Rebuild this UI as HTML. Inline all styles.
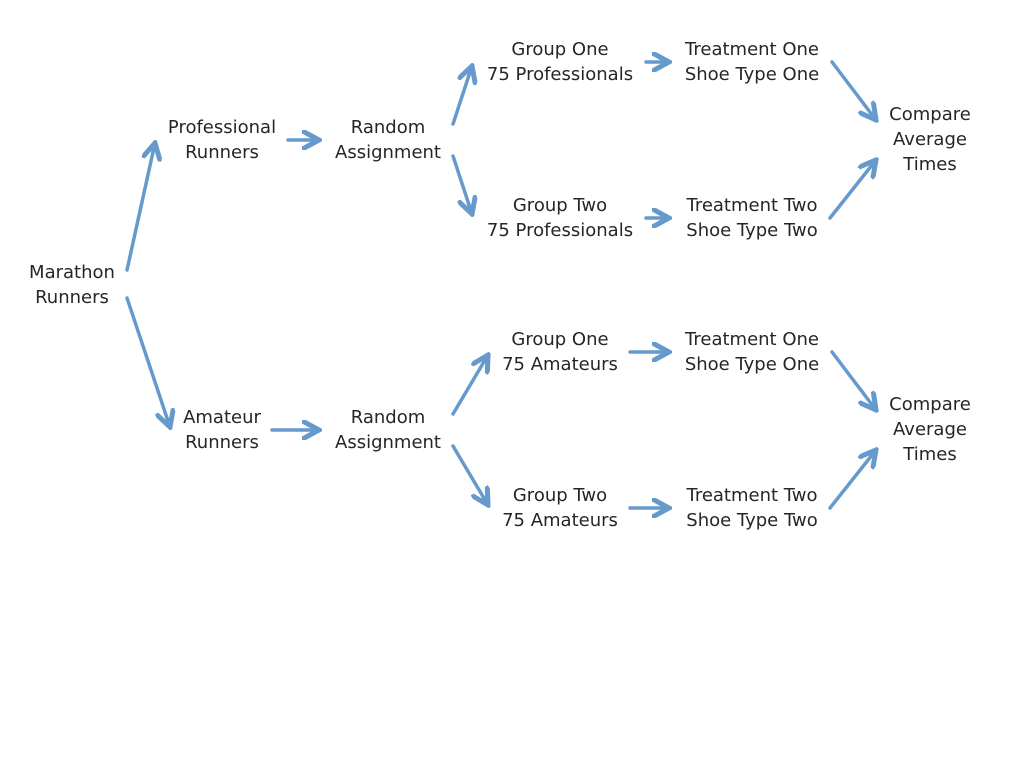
<!DOCTYPE html>
<html><head><meta charset="utf-8"><style>
html,body{margin:0;padding:0;background:#fff;}
svg text{font-family:"DejaVu Sans","Liberation Sans",sans-serif;font-size:18px;fill:#262626;text-anchor:middle;}
</style></head><body>
<svg width="1024" height="768" viewBox="0 0 1024 768" xmlns="http://www.w3.org/2000/svg">
<defs>
<marker id="a" markerUnits="userSpaceOnUse" markerWidth="20" markerHeight="20" refX="12" refY="7" orient="auto" viewBox="0 0 14 14">
<path d="M1,1 L12,7 L1,13" fill="none" stroke="#6699cc" stroke-width="3.5" stroke-linecap="round" stroke-linejoin="miter"/>
</marker>
</defs>
<g stroke="#6699cc" stroke-width="3.5" fill="none" stroke-linecap="round" marker-end="url(#a)">
<line x1="127" y1="270" x2="155" y2="143"/>
<line x1="127" y1="298" x2="170" y2="427"/>
<line x1="288" y1="140" x2="319" y2="140"/>
<line x1="272" y1="430" x2="319" y2="430"/>
<line x1="453" y1="124" x2="472" y2="66"/>
<line x1="453" y1="156" x2="472" y2="214"/>
<line x1="453" y1="414" x2="488" y2="355"/>
<line x1="453" y1="446" x2="488" y2="505"/>
<line x1="646" y1="62" x2="669" y2="62"/>
<line x1="646" y1="218" x2="669" y2="218"/>
<line x1="630" y1="352" x2="669" y2="352"/>
<line x1="630" y1="508" x2="669" y2="508"/>
<line x1="832" y1="62" x2="876" y2="120"/>
<line x1="830" y1="218" x2="876" y2="160"/>
<line x1="832" y1="352" x2="876" y2="410"/>
<line x1="830" y1="508" x2="876" y2="450"/>
</g>
<text x="72" y="278">Marathon</text><text x="72" y="303">Runners</text>
<text x="222" y="133">Professional</text><text x="222" y="158">Runners</text>
<text x="222" y="423">Amateur</text><text x="222" y="448">Runners</text>
<text x="388" y="133">Random</text><text x="388" y="158">Assignment</text>
<text x="388" y="423">Random</text><text x="388" y="448">Assignment</text>
<text x="560" y="55">Group One</text><text x="560" y="80">75 Professionals</text>
<text x="560" y="211">Group Two</text><text x="560" y="236">75 Professionals</text>
<text x="560" y="345">Group One</text><text x="560" y="370">75 Amateurs</text>
<text x="560" y="501">Group Two</text><text x="560" y="526">75 Amateurs</text>
<text x="752" y="55">Treatment One</text><text x="752" y="80">Shoe Type One</text>
<text x="752" y="211">Treatment Two</text><text x="752" y="236">Shoe Type Two</text>
<text x="752" y="345">Treatment One</text><text x="752" y="370">Shoe Type One</text>
<text x="752" y="501">Treatment Two</text><text x="752" y="526">Shoe Type Two</text>
<text x="930" y="120">Compare</text><text x="930" y="145">Average</text><text x="930" y="170">Times</text>
<text x="930" y="410">Compare</text><text x="930" y="435">Average</text><text x="930" y="460">Times</text>
</svg>
</body></html>
